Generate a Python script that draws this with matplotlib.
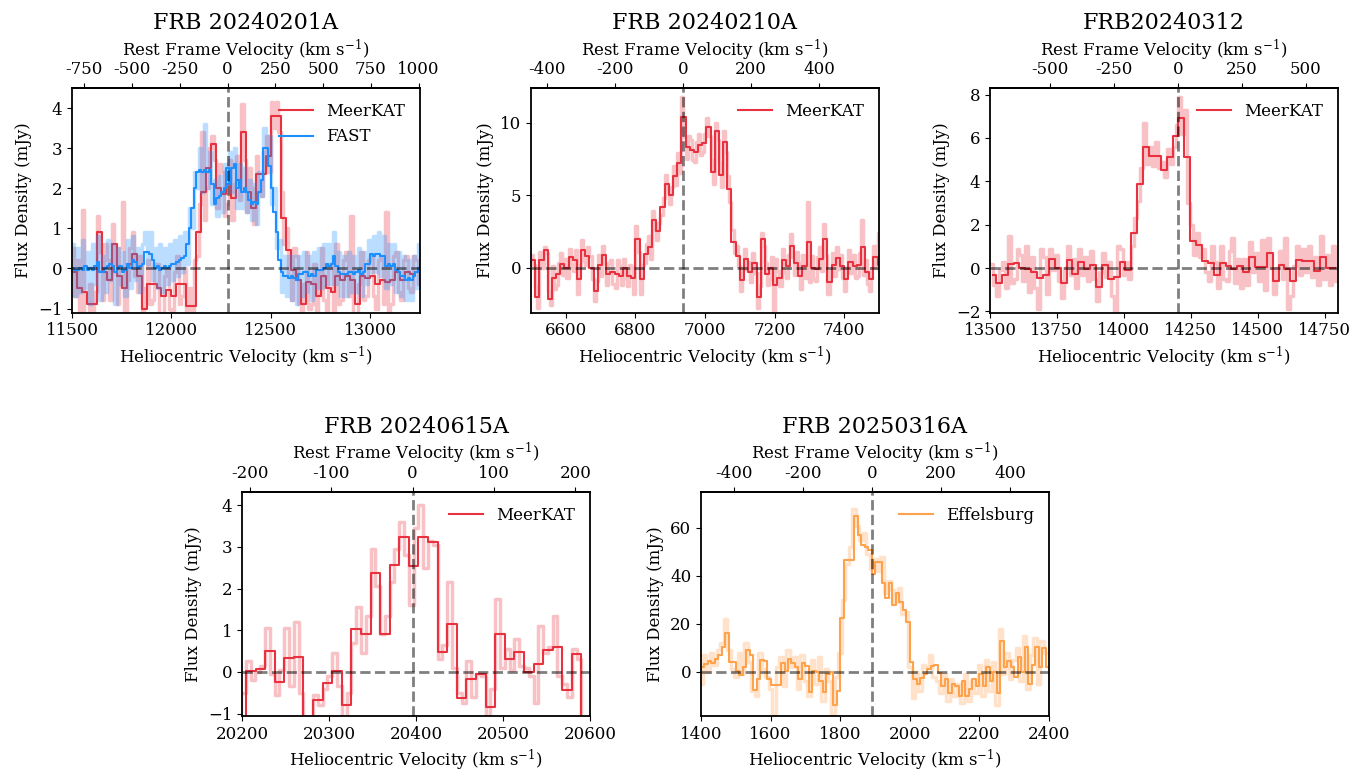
import numpy as np
import matplotlib
matplotlib.use("Agg")
from matplotlib import pyplot as plt

plt.rcParams['font.family'] = 'DejaVu Serif'
plt.rcParams['mathtext.fontset'] = 'dejavuserif'
plt.rcParams['font.size'] = 12
plt.rcParams['axes.linewidth'] = 1.3

C_KMS = 299792.458
RED = '#e8323f'
BLUE = '#1e8fff'
ORANGE = '#ffa24c'
RAW_LW = 2.5
RAW_ALPHA = 0.3

# ---------------- FRB 20240201A (MeerKAT + FAST) ----------------
v0_a = 12282
meer_a = [-0.1, -0.5, -0.6, -0.9, -0.9, 0.9, -0.1, -0.3, 0.6, -0.2,
          -0.5, 0.1, 0.35, -0.2, -1.0, -0.4, -0.4, -0.5, -0.7, -0.55,
          -0.7, -0.4, -0.4, -0.95, -0.95, 0.9, 1.9, 2.5, 3.1, 2.0,
          1.85, 2.1, 1.75, 2.2, 3.4, 1.9, 1.5, 2.35, 2.35, 2.8,
          3.8, 3.8, 1.25, 0.45, -0.05, -0.3, -0.9, -0.35, -0.4, -0.7,
          -0.2, -0.5, -0.6, -0.2, -0.3, -0.2, -0.3, -0.9, -0.2, -0.25,
          -0.2, -0.4, -0.3, -0.35, -0.3, -0.1, -0.3, -0.1, -0.15, -0.1]
meer_a_raw = [0.5, -0.7, 0.2, -1.2, 1.45, -2.0, -1.4, -0.4, -1.2, -0.6,
              1.3, 0.4, -0.8, 0.6, 0.2, -0.8, 1.1, 0.1, -0.9, 0.5,
              1.65, -1.3, -0.3, 0.5, 0.9, -0.2, -0.6, 0.3, -1.5, -0.5,
              0.2, -0.9, -0.8, 0.1, 0.1, -1.1, -1.2, -0.2, 0.0, -1.0,
              -1.3, -0.1, 0.3, -0.9, -0.7, 0.0, -1.4, -0.5, -1.2, 0.2,
              0.3, 1.6, 3.4, 1.2, 2.0, 3.0, 3.3, 2.7, 1.5, 2.6,
              2.4, 1.3, 1.6, 2.7, 1.2, 2.1, 2.8, 1.7, 4.1, 2.7,
              1.4, 2.5, 2.0, 1.1, 2.8, 1.9, 1.8, 2.9, 3.3, 2.4,
              4.15, 3.5, 4.15, 3.4, 1.9, 0.6, 1.0, -0.2, -0.8, 0.5,
              0.3, -0.9, -1.4, -0.4, 0.4, -1.0, -0.9, 0.1, -1.3, -0.1,
              0.5, -0.8, -1.1, 0.1, 0.0, -1.2, 0.6, -0.9, -0.8, 0.2,
              0.4, -0.7, 1.3, -1.5, -1.4, -0.4, 0.4, -0.8, -0.7, 0.2,
              0.3, -0.7, -1.0, 0.2, 0.3, -0.9, 1.4, -1.3, -0.9, 0.3,
              0.4, -0.6, -0.8, 0.2, 0.3, -0.5, -0.6, 0.3, 0.2, -0.4]
fast_a = [0.0, -0.05, -0.05, 0.0, -0.05, 0.05, -0.05, 0.0, -0.05, 0.05,
          0.15, -0.1, -0.1, 0.0, 0.05, 0.1, 0.05, -0.1, 0.0, 0.05,
          -0.1, -0.05, 0.1, 0.0, 0.2, 0.15, 0.0, 0.05, 0.1, 0.4,
          0.4, 0.35, 0.2, 0.0, 0.05, -0.05, 0.0, 0.05, 0.0, 0.05,
          0.1, 0.1, 0.15, 0.2, 0.25, 0.3, 0.6, 1.0, 1.5, 2.0,
          2.4, 2.45, 2.4, 2.45, 2.4, 2.45, 2.1, 1.6, 1.75, 1.8,
          1.9, 2.0, 2.5, 2.1, 2.5, 2.6, 2.0, 2.2, 1.9, 2.0,
          1.9, 1.7, 1.6, 1.65, 1.6, 1.9, 2.2, 3.0, 3.0, 2.55,
          2.0, 1.4, 0.9, 0.2, -0.1, -0.2, -0.2, -0.25, -0.2, -0.25,
          -0.3, -0.15, -0.15, -0.1, -0.1, -0.2, -0.15, -0.2, -0.05, -0.05,
          -0.05, 0.0, 0.1, 0.05, 0.1, 0.3, 0.05, -0.1, -0.15, -0.15,
          -0.15, -0.1, -0.1, -0.15, -0.1, -0.05, -0.15, -0.1, 0.1, 0.1,
          0.35, 0.3, 0.35, 0.35, 0.3, 0.3, 0.05, 0.1, 0.05, 0.1,
          -0.05, -0.1, -0.2, -0.2, -0.3, -0.25, -0.3, -0.2, -0.1, 0.0]
fast_a_raw = [0.6, -0.7, 0.5, -0.6, 0.7, -0.5, 0.4, -0.9, 0.6, -0.4,
              0.8, -0.8, 0.3, -0.6, 0.7, -0.3, 0.6, -0.9, 0.5, -0.4,
              0.4, -0.7, 0.7, -0.5, 0.8, -0.3, 0.5, -0.6, 0.6, 0.9,
              0.1, 0.9, -0.3, 0.5, -0.5, 0.6, -0.6, 0.5, -0.4, 0.6,
              -0.3, 0.7, -0.2, 0.8, -0.1, 0.9, 0.1, 1.5, 1.0, 2.4,
              2.0, 3.0, 1.9, 3.6, 2.0, 2.9, 1.6, 2.2, 1.3, 2.3,
              1.4, 2.6, 2.1, 2.9, 1.9, 3.0, 1.5, 2.6, 1.5, 2.5,
              1.4, 2.2, 1.2, 2.1, 1.1, 2.4, 1.8, 3.5, 2.6, 3.3,
              1.6, 2.0, 0.5, 0.7, -0.6, 0.3, -0.7, 0.3, -0.8, 0.3,
              -0.9, 0.3, -0.7, 0.4, -0.6, 0.3, -0.8, 0.4, -0.5, 0.5,
              -0.5, 0.6, -0.4, 0.6, -0.4, 0.9, -0.4, 0.4, -0.7, 0.3,
              -0.7, 0.4, -0.6, 0.3, -0.6, 0.5, -0.7, 0.4, -0.4, 0.7,
              -0.1, 0.8, -0.1, 0.9, -0.2, 0.8, -0.5, 0.6, -0.4, 0.6,
              -0.6, 0.4, -0.7, 0.3, -0.8, 0.2, -0.8, 0.3, -0.5, 0.6]

# ---------------- FRB 20240210A ----------------
v0_b = 6937
meer_b = [0.55, -2.0, 0.55, 1.2, -2.15, -0.75, -0.45, 0.25, -0.05, 0.75,
          0.5, -0.8, 1.2, 0.8, 0.0, -1.6, 0.15, 0.9, -0.45, -0.3,
          -0.45, -0.55, -0.05, -0.55, -0.75, 2.0, -0.8, 0.95, 1.4, 3.3,
          2.5, 4.2, 5.8, 5.0, 6.35, 7.2, 10.4, 8.3, 8.1, 8.0,
          8.5, 8.6, 9.7, 6.6, 9.4, 6.4, 8.7, 5.4, 1.8, 0.8,
          -0.85, 0.6, -0.3, 0.3, -2.05, 1.95, -0.45, -0.05, -1.2, -0.75,
          0.5, 0.1, 1.5, 0.3, -0.6, 0.1, 1.75, 0.0, -0.1, 0.6,
          1.95, -1.0, 0.2, 0.65, 0.1, -0.8, 0.4, 0.1, 0.2, 1.4,
          -0.3, -0.8, 0.75, 0.2]
meer_b_raw = [0.9, 0.2, -1.3, -2.8, 1.1, 0.0, 1.4, 1.0, -1.6, -2.6,
              0.1, -1.5, -1.2, 0.3, 1.0, -0.5, 0.6, -0.7, 1.3, 0.2,
              -0.2, 1.2, -1.8, 0.2, 1.9, 0.5, 0.2, 1.4, 0.8, -0.8,
              -2.3, -0.9, 0.9, -0.6, 1.5, 0.3, -1.2, 0.3, 0.5, -1.1,
              -1.4, 0.5, 0.1, -1.2, 0.6, -0.7, -1.3, 0.2, 0.0, -1.8,
              2.9, 1.1, -1.8, 0.2, 0.3, 1.6, 2.2, 0.6, 3.9, 2.7,
              1.9, 3.1, 3.6, 4.8, 6.4, 5.2, 4.4, 5.6, 7.0, 5.7,
              7.9, 6.5, 11.8, 9.0, 7.5, 9.1, 8.8, 7.4, 7.3, 8.7,
              9.2, 7.8, 8.0, 9.2, 10.3, 9.1, 7.4, 5.8, 10.0, 8.8,
              7.2, 5.6, 9.4, 8.0, 6.3, 4.5, 2.6, 1.0, 1.5, 0.1,
              -1.6, -0.1, 1.3, -0.1, 0.4, -1.0, 1.0, -0.4, -2.8, -1.3,
              2.4, 1.5, 0.3, -1.2, -0.8, 0.7, -3.0, 0.6, -0.2, -1.3,
              1.3, -0.3, -0.7, 0.9, 2.3, 0.7, -0.5, 1.1, 0.3, -1.5,
              0.9, -0.7, 4.5, -1.0, 0.8, -0.8, -0.9, 0.7, 1.4, -0.2,
              3.0, 0.9, -1.8, -0.2, 1.0, -0.6, 1.4, -0.1, 0.9, -0.7,
              -1.6, 0.0, 1.2, -0.4, 0.9, -0.7, -0.6, 1.0, 3.3, -0.5,
              0.5, -1.1, -1.6, 0.0, 1.5, 0.0, 2.4, -0.8]

# ---------------- FRB20240312 ----------------
v0_c = 14202
meer_c = [-0.3, -0.68, -0.3, 0.17, 0.25, 0.0, -0.05, -0.2, -0.48, -0.3,
          0.4, 0.0, -0.68, 0.37, -0.27, 0.28, -0.05, 0.15, -0.86, 0.15,
          -0.5, -0.43, 0.28, -0.1, 1.63, 3.86, 5.6, 5.15, 5.15, 4.5,
          5.1, 6.1, 6.9, 5.1, 1.23, 1.07, 0.32, 0.25, -0.3, 0.25,
          0.1, -0.05, 0.1, -0.18, 0.52, 0.07, 0.05, 0.68, -0.62, 0.14,
          -0.03, -0.6, 0.37, 0.32, 0.32, -0.15, 0.52, 0.02, 0.02]
meer_c_raw = [0.2, -0.8, -1.3, -0.1, 0.3, -0.9, 1.5, -0.7, -0.5, 0.9,
              0.6, -0.6, 1.0, -1.1, 0.5, -0.9, -1.9, 0.9, 0.5, -1.2,
              0.9, -0.1, 0.6, -0.6, -1.4, 0.0, 1.0, -0.3, 0.4, -0.9,
              0.9, -0.3, 0.5, -0.6, 0.8, -0.5, -1.5, -0.2, 0.7, -0.4,
              0.3, -1.3, -2.1, 1.0, 0.9, -0.3, 0.3, -0.5, 1.0, 2.3,
              3.1, 4.6, 6.7, 4.8, 5.6, 4.7, 5.8, 4.6, 4.9, 4.2,
              5.5, 4.8, 5.6, 6.6, 7.9, 6.2, 7.3, 3.0, 2.0, 0.6,
              1.6, 0.5, 0.9, -0.2, -0.6, 1.0, 0.3, -0.9, 1.0, -0.5,
              -0.6, 0.8, 1.4, -0.7, 0.4, -0.9, 0.4, -0.8, 1.2, -0.2,
              0.7, -0.6, 1.3, -1.0, 1.4, 0.0, -1.2, 0.0, 0.8, -0.5,
              1.4, -1.9, -1.3, 0.1, 1.0, -0.3, 0.9, -0.2, 1.0, -0.4,
              0.5, -0.8, 1.5, -0.5, 0.6, -0.8, 1.0, -0.6]

# ---------------- FRB 20240615A ----------------
v0_d = 20396
meer_d = [-1.5, 0.02, 0.08, 0.5, -0.24, 0.34, 0.36, -1.5, -0.68, -0.26,
          0.03, -0.8, 1.02, 0.92, 2.38, 0.9, 2.56, 3.25, 2.54, 3.25,
          3.11, 0.48, 1.14, -0.63, -0.18, -0.06, -0.85, 0.92, 0.3, 0.48,
          0.0, 0.2, 0.52, 0.6, -0.44, 0.42, -1.5]
meer_d_raw = [-1.8, -0.5, 0.25, -0.2, 0.0, 0.15, 1.05, -0.05, -0.55, 0.05,
              1.05, -0.35, 1.2, -0.5, -1.6, -1.3, -0.55, -0.8, -0.4, -0.1,
              0.45, -0.35, -1.1, -0.5, 0.7, 1.55, 0.45, 1.35, 2.95, 2.05,
              0.9, 1.35, 2.15, 2.95, 3.6, 2.8, 1.6, 3.45, 4.0, 2.5,
              3.15, 3.05, 0.3, 0.65, 2.15, 0.1, -0.5, -0.75, 0.25, -0.6,
              -0.05, -0.1, -1.3, -0.4, 1.75, 0.1, 0.55, 0.05, 0.8, 0.15,
              0.1, -0.1, -0.75, 1.1, 0.45, 0.6, 1.35, -0.1, -0.3, -0.6,
              0.55, 0.3, -1.6, -1.6]

# ---------------- FRB 20250316A (Effelsburg) ----------------
v0_e = 1891
eff_e = [2.1, 3.2, 4.5, 3.9, 5.2, 7.0, 10.4, 16.3, 4.2, 4.2,
         0.5, -1.5, 2.0, 9.0, 7.0, -7.5, -3.0, 5.0, 4.5, -3.0,
         -5.5, -5.5, -5.5, 3.5, 0.5, 5.5, 3.5, 2.0, -3.0, 3.5,
         2.5, -8.5, 0.5, 0.0, -4.0, -8.5, -1.0, 0.0, -14.0, -8.0,
         22.5, 46.5, 46.5, 46.5, 65.0, 57.0, 53.0, 52.0, 51.0, 41.0,
         46.0, 46.0, 37.0, 31.0, 37.0, 28.0, 33.0, 29.0, 26.0, 21.0,
         4.0, -3.0, -5.0, -2.5, -1.0, 1.0, 2.5, 3.0, -0.5, -6.0,
         -3.0, -9.0, -5.0, -6.0, -10.0, -4.0, -10.0, -7.0, -3.0, -6.0,
         -1.0, -6.0, 2.0, -4.0, 0.0, -9.0, 13.0, 2.0, 4.5, 2.0,
         -2.0, 6.0, 0.0, 10.5, -5.0, 3.0, 10.5, 2.0, 10.0, 2.0]
eff_e_raw = [-5, 7, 0, 8, 3, 9, 12, 22, 9, 1,
             -2, 8, -1, 12, 4, -8, -10, 8, 1, -2,
             -7, -18, 2, 6, -6, 9, 2, 6, -7, 7,
             -4, -10, 5, -5, 6, -12, 1, -4, -18, -2,
             8, 30, 45, 52, 68, 61, 55, 58, 49, 43,
             47, 42, 48, 33, 38, 34, 29, 35, 24, 25,
             2, -11, 0, -8, 3, 2, 7, -2, -4, -9,
             -1, -12, -3, -10, -5, -13, -1, -12, -4, -9,
             3, -10, 5, -8, 4, -14, 18, -1, 8, -3,
             5, 10, -4, 15, -7, 7, 14, -5, 13, 8]


def grid(start, width, n):
    # channel centres of a uniform velocity grid
    return start + width * np.arange(n)


def panel(ax, title, v0, xlim, ylim, xticks, topticks, yticks):
    ax.axhline(0, color='k', ls='--', lw=2, alpha=0.5, zorder=5)
    ax.axvline(v0, color='k', ls='--', lw=2, alpha=0.5, zorder=5)
    ax.set_xlim(xlim)
    ax.set_ylim(ylim)
    ax.set_xticks(xticks)
    ax.set_yticks(yticks)
    ax.set_xlabel('Heliocentric Velocity (km s$^{-1}$)')
    ax.set_ylabel('Flux Density (mJy)')
    k = 1 + v0 / C_KMS
    sec = ax.secondary_xaxis('top', functions=(lambda v: (v - v0) * k,
                                               lambda r: r / k + v0))
    sec.set_xticks(topticks)
    sec.set_xticklabels([str(t) for t in topticks])
    sec.set_xlabel('Rest Frame Velocity (km s$^{-1}$)')
    ax.set_title(title, fontsize=16)
    ax.legend(loc='upper right', frameon=False, fontsize=12)


fig = plt.figure(figsize=(13.69, 7.77), dpi=100)
W, H = 0.2542, 0.2889
ax1 = fig.add_axes([72 / 1369, 0.5978, W, H])
ax2 = fig.add_axes([531 / 1369, 0.5978, W, H])
ax3 = fig.add_axes([990 / 1369, 0.5978, W, H])
ax4 = fig.add_axes([242 / 1369, 0.0785, W, H])
ax5 = fig.add_axes([701 / 1369, 0.0785, W, H])

# panel 1
ax1.step(grid(11506.25, 12.5, len(meer_a_raw)), meer_a_raw, where='mid', color=RED, lw=RAW_LW, alpha=RAW_ALPHA)
ax1.step(grid(11512.5, 25, len(meer_a)), meer_a, where='mid', color=RED, lw=1.5, label='MeerKAT')
ax1.step(grid(11506.25, 12.5, len(fast_a_raw)), fast_a_raw, where='mid', color=BLUE, lw=RAW_LW, alpha=RAW_ALPHA)
ax1.step(grid(11506.25, 12.5, len(fast_a)), fast_a, where='mid', color=BLUE, lw=1.5, label='FAST')
panel(ax1, 'FRB 20240201A', v0_a, (11500, 13250), (-1.1, 4.5),
      [11500, 12000, 12500, 13000], [-750, -500, -250, 0, 250, 500, 750, 1000], [-1, 0, 1, 2, 3, 4])

# panel 2
ax2.step(grid(6503, 6, len(meer_b_raw)), meer_b_raw, where='mid', color=RED, lw=RAW_LW, alpha=RAW_ALPHA)
ax2.step(grid(6506, 12, len(meer_b)), meer_b, where='mid', color=RED, lw=1.5, label='MeerKAT')
panel(ax2, 'FRB 20240210A', v0_b, (6500, 7500), (-3.1, 12.4),
      [6600, 6800, 7000, 7200, 7400], [-400, -200, 0, 200, 400], [0, 5, 10])

# panel 3
ax3.step(grid(13505.5, 11, len(meer_c_raw)), meer_c_raw, where='mid', color=RED, lw=RAW_LW, alpha=RAW_ALPHA)
ax3.step(grid(13511, 22, len(meer_c)), meer_c, where='mid', color=RED, lw=1.5, label='MeerKAT')
panel(ax3, 'FRB20240312', v0_c, (13500, 14800), (-2.05, 8.3),
      [13500, 13750, 14000, 14250, 14500, 14750], [-500, -250, 0, 250, 500], [-2, 0, 2, 4, 6, 8])

# panel 4
ax4.step(grid(20196.2, 5.51, len(meer_d_raw)), meer_d_raw, where='mid', color=RED, lw=RAW_LW, alpha=RAW_ALPHA)
ax4.step(grid(20199, 11.02, len(meer_d)), meer_d, where='mid', color=RED, lw=1.5, label='MeerKAT')
panel(ax4, 'FRB 20240615A', v0_d, (20200, 20600), (-1.06, 4.33),
      [20200, 20300, 20400, 20500, 20600], [-200, -100, 0, 100, 200], [-1, 0, 1, 2, 3, 4])

# panel 5
ax5.step(grid(1400, 10, len(eff_e_raw)), eff_e_raw, where='mid', color=ORANGE, lw=RAW_LW, alpha=RAW_ALPHA)
ax5.step(grid(1405, 10, len(eff_e)), eff_e, where='mid', color=ORANGE, lw=1.5, label='Effelsburg')
panel(ax5, 'FRB 20250316A', v0_e, (1400, 2400), (-18.4, 75.2),
      [1400, 1600, 1800, 2000, 2200, 2400], [-400, -200, 0, 200, 400], [0, 20, 40, 60])

plt.savefig('out.png', dpi=100)
plt.close()
